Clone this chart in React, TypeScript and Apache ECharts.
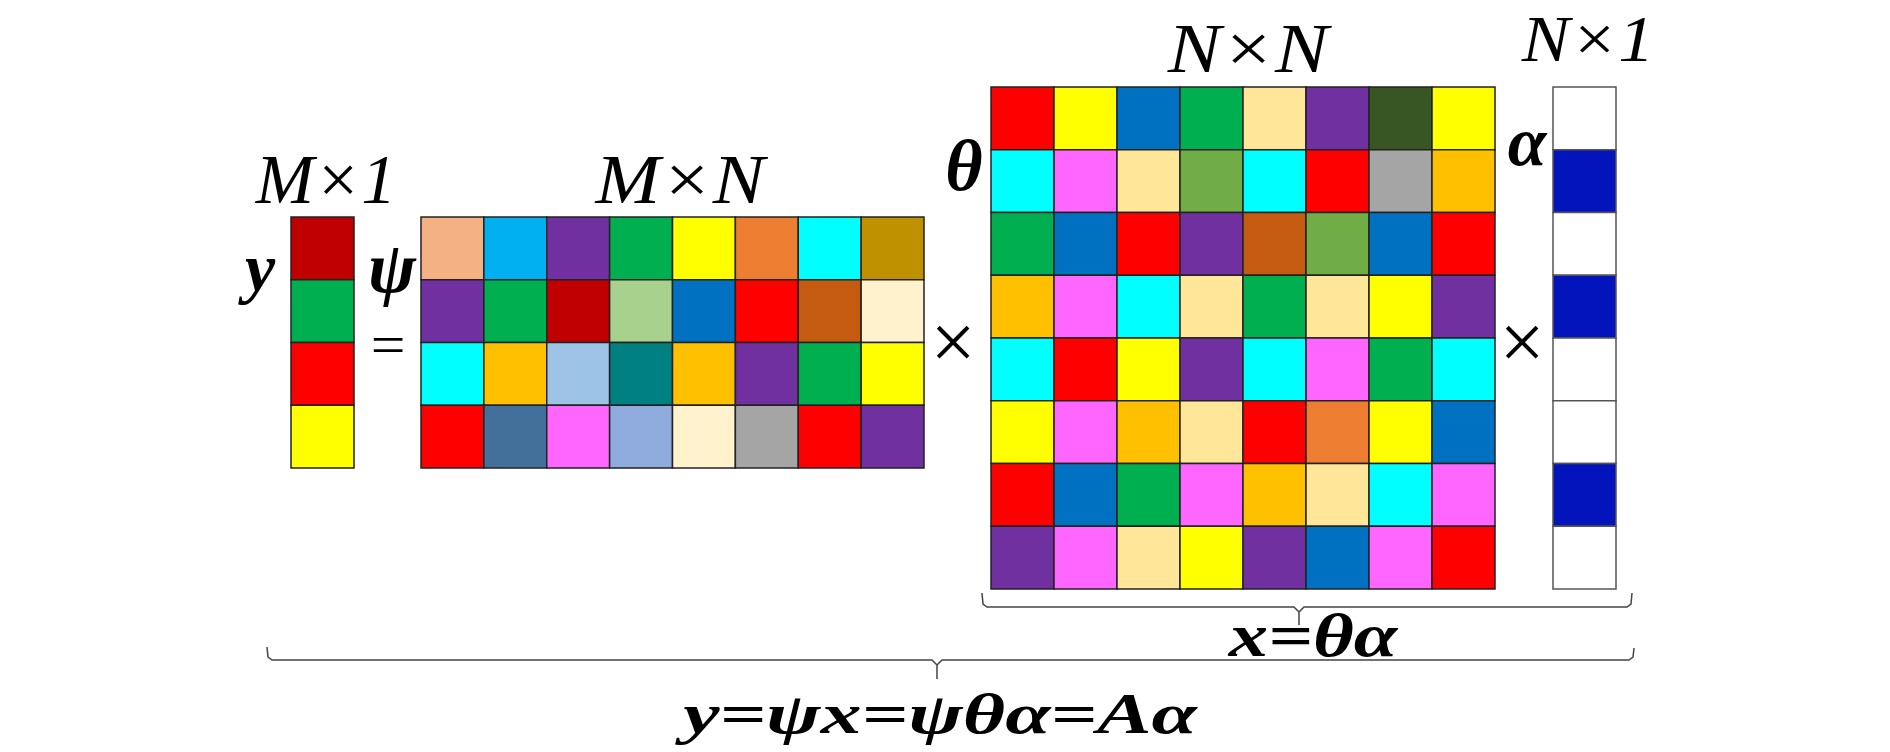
import React, { useEffect, useRef } from "react";
import * as echarts from "echarts";

// ---- colours (Office palette) ----
const DARKRED = "#C00000";
const GREEN = "#00B050";
const RED = "#FF0000";
const YELLOW = "#FFFF00";
const PEACH = "#F4B183";
const SKY = "#00B0F0";
const PURPLE = "#7030A0";
const ORANGE = "#ED7D31";
const CYAN = "#00FFFF";
const GOLD = "#BF9000";
const LIGHTGREEN = "#A9D18E";
const BLUE = "#0070C0";
const BROWN = "#C55A11";
const CREAM = "#FFF2CC";
const AMBER = "#FFC000";
const PALEBLUE = "#9DC3E6";
const TEAL = "#008080";
const STEEL = "#43709B";
const PINK = "#FF66FF";
const LAVENDER = "#8FAADC";
const GREY = "#A5A5A5";
const SAND = "#FFE699";
const DARKGREEN = "#375623";
const OLIVE = "#70AD47";
const NAVY = "#0414BC";
const WHITE = "#FFFFFF";

// ---- matrices (row by row) ----
const yVector = [[DARKRED], [GREEN], [RED], [YELLOW]];

const psiMatrix = [
  [PEACH, SKY, PURPLE, GREEN, YELLOW, ORANGE, CYAN, GOLD],
  [PURPLE, GREEN, DARKRED, LIGHTGREEN, BLUE, RED, BROWN, CREAM],
  [CYAN, AMBER, PALEBLUE, TEAL, AMBER, PURPLE, GREEN, YELLOW],
  [RED, STEEL, PINK, LAVENDER, CREAM, GREY, RED, PURPLE],
];

const thetaMatrix = [
  [RED, YELLOW, BLUE, GREEN, SAND, PURPLE, DARKGREEN, YELLOW],
  [CYAN, PINK, SAND, OLIVE, CYAN, RED, GREY, AMBER],
  [GREEN, BLUE, RED, PURPLE, BROWN, OLIVE, BLUE, RED],
  [AMBER, PINK, CYAN, SAND, GREEN, SAND, YELLOW, PURPLE],
  [CYAN, RED, YELLOW, PURPLE, CYAN, PINK, GREEN, CYAN],
  [YELLOW, PINK, AMBER, SAND, RED, ORANGE, YELLOW, BLUE],
  [RED, BLUE, GREEN, PINK, AMBER, SAND, CYAN, PINK],
  [PURPLE, PINK, SAND, YELLOW, PURPLE, BLUE, PINK, RED],
];

const alphaVector = [[WHITE], [NAVY], [WHITE], [NAVY], [WHITE], [WHITE], [NAVY], [WHITE]];

const matrices = [yVector, psiMatrix, thetaMatrix, alphaVector];
const cellStrokes = ["#222222", "#222222", "#222222", "#555555"];

// ---- grid placement (pixels) ----
const gridBoxes = [
  { left: 291, top: 217, width: 63, height: 251 },
  { left: 421, top: 217, width: 503, height: 251 },
  { left: 991, top: 87, width: 504, height: 502 },
  { left: 1553, top: 87, width: 63, height: 502 },
];

const SERIF = "Liberation Serif";

function label(text: string, cx: number, baseline: number, size: number, bold: boolean, sx = 1) {
  return {
    type: "text",
    x: cx,
    y: baseline - 0.3375 * size,
    scaleX: sx,
    silent: true,
    style: {
      text,
      x: 0,
      y: 0,
      textAlign: "center",
      textVerticalAlign: "middle",
      fontFamily: SERIF,
      fontSize: size,
      fontStyle: "italic",
      fontWeight: bold ? "bold" : "normal",
      lineHeight: Math.round(size * 0.8),
      fill: "#000",
    },
  };
}

function plain(text: string, cx: number, cy: number, size: number, sx = 1) {
  return {
    type: "text",
    x: cx,
    y: cy,
    scaleX: sx,
    silent: true,
    style: {
      text,
      x: 0,
      y: 0,
      textAlign: "center",
      textVerticalAlign: "middle",
      fontFamily: SERIF,
      fontSize: size,
      fontWeight: "normal",
      lineHeight: Math.round(size * 0.8),
      fill: "#000",
    },
  };
}

function braceHalf(points: number[][]) {
  return {
    type: "polyline",
    silent: true,
    shape: { points },
    style: { stroke: "#444", lineWidth: 1.5, fill: "none" },
  };
}

export default function App() {
  const ref = useRef<HTMLDivElement>(null);

  useEffect(() => {
    if (!ref.current) return;
    const chart = echarts.init(ref.current, undefined, { renderer: "svg" });

    const grid = gridBoxes.map((g) => ({ ...g, containLabel: false }));
    const xAxis = matrices.map((m, i) => ({
      gridIndex: i,
      type: "category",
      data: m[0].map((_, c) => String(c + 1)),
      show: false,
    }));
    const yAxis = matrices.map((m, i) => ({
      gridIndex: i,
      type: "category",
      inverse: true,
      data: m.map((_, r) => String(r + 1)),
      show: false,
    }));
    const series = matrices.map((m, i) => {
      const data: number[][] = [];
      m.forEach((row, r) => row.forEach((_, c) => data.push([c, r])));
      return {
        type: "custom",
        xAxisIndex: i,
        yAxisIndex: i,
        data,
        renderItem: (params: any, api: any) => {
          const c = api.value(0);
          const r = api.value(1);
          const p = api.coord([c, r]);
          const s = api.size([1, 1]);
          return {
            type: "rect",
            shape: { x: p[0] - s[0] / 2, y: p[1] - s[1] / 2, width: s[0], height: s[1] },
            style: { fill: m[r][c], stroke: cellStrokes[i], lineWidth: 1.5 },
          };
        },
      };
    });

    const graphic = [
      label("M×1", 326, 203, 70, false, 1.0),
      label("M×N", 680, 203, 70, false, 1.11),
      label("N×N", 1248, 72, 70, false, 1.14),
      label("N×1", 1588, 61, 66, false, 1.09),
      label("y", 260, 291, 68, true),
      label("ψ", 392, 292, 72, true),
      plain("=", 388, 345, 56, 1.1),
      label("θ", 964, 190, 72, true),
      label("α", 1527, 165, 70, true),
      plain("×", 953, 342, 80),
      plain("×", 1522, 342, 80),
      label("x=θα", 1313, 656, 62, true, 1.27),
      label("y=ψx=ψθα=Aα", 940, 733, 58, true, 1.41),
      braceHalf([[982, 593], [983, 604], [987, 607], [1294, 607], [1299, 612], [1299, 625]]),
      braceHalf([[1632, 593], [1631, 604], [1627, 607], [1304, 607], [1299, 612]]),
      braceHalf([[267, 647], [268, 657], [272, 660], [932, 660], [937, 665], [937, 679]]),
      braceHalf([[1634, 648], [1633, 657], [1629, 660], [942, 660], [937, 665]]),
    ];

    chart.setOption({
      animation: false,
      backgroundColor: "#ffffff",
      grid,
      xAxis,
      yAxis,
      series,
      graphic,
    });

    return () => chart.dispose();
  }, []);

  return (
    <div
      ref={ref}
      style={{ position: "fixed", left: 0, top: 0, width: 1890, height: 752, background: "#fff" }}
    />
  );
}
